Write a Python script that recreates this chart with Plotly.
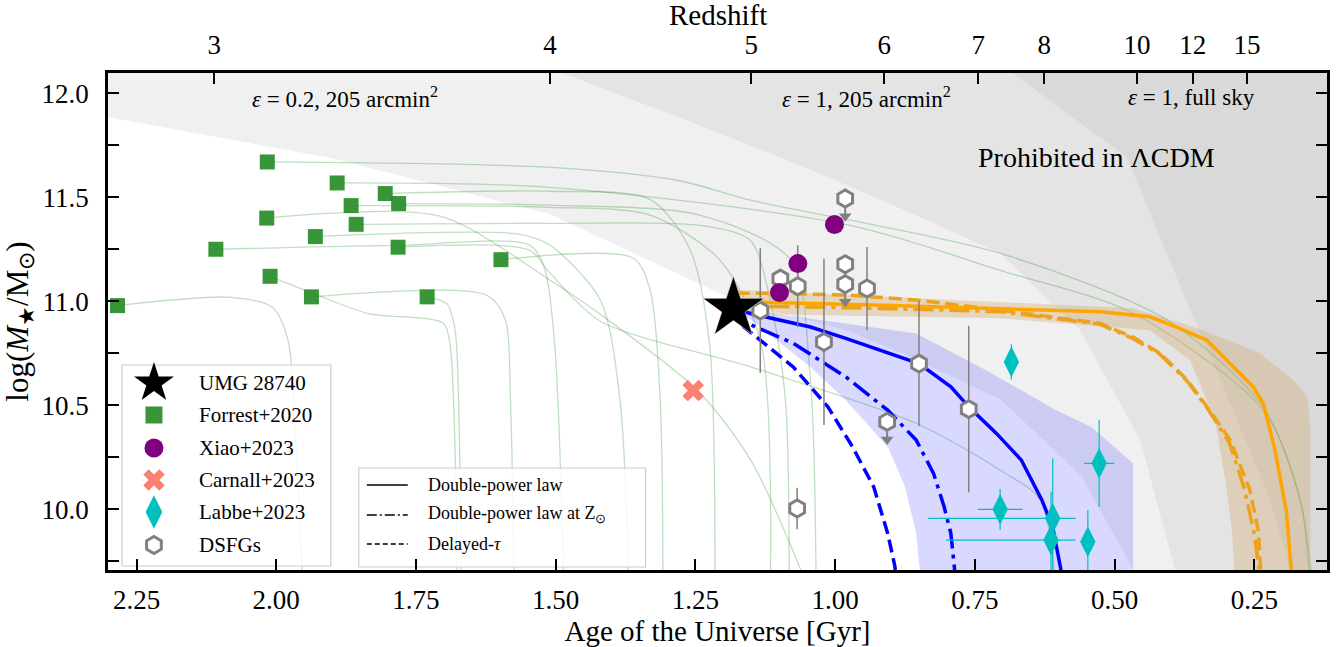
import plotly.graph_objects as go

FONT = "Liberation Serif"

# ---------------- axes / ticks ----------------
AGE_RANGE = [2.301, 0.120]
MASS_RANGE = [9.707, 12.098]
age_ticks = [2.25, 2.00, 1.75, 1.50, 1.25, 1.00, 0.75, 0.50, 0.25]
age_tick_labels = ["2.25", "2.00", "1.75", "1.50", "1.25", "1.00", "0.75", "0.50", "0.25"]
mass_ticks = [10.0, 10.5, 11.0, 11.5, 12.0]
mass_tick_labels = ["10.0", "10.5", "11.0", "11.5", "12.0"]
mass_minor_ticks = [9.75, 10.25, 10.75, 11.25, 11.75]
redshift_labels = ["3", "4", "5", "6", "7", "8", "10", "12", "15"]
redshift_ages = [2.111, 1.510, 1.150, 0.912, 0.744, 0.626, 0.460, 0.360, 0.263]

# ---------------- prohibited-region boundaries ----------------
eps02_age = [2.40, 2.30, 1.90, 1.51, 1.18, 0.98, 0.88, 0.705, 0.56, 0.45, 0.43]
eps02_mass = [11.93, 11.885, 11.688, 11.418, 11.005, 10.86, 10.75, 10.53, 10.16, 9.63, 9.50]
eps1_age = [1.52, 1.4865, 1.2415, 1.0626, 0.8836, 0.7048, 0.5617, 0.4544, 0.3918, 0.37]
eps1_mass = [12.20, 12.096, 11.846, 11.654, 11.447, 11.231, 10.861, 10.332, 9.707, 9.50]
sky_age = [0.70, 0.6815, 0.4776, 0.3774, 0.2880, 0.2218, 0.1860, 0.17]
sky_mass = [12.20, 12.096, 11.692, 11.038, 10.476, 10.044, 9.707, 9.50]

# ---------------- galaxies ----------------
umg_age = [1.182]
umg_mass = [10.966]

forrest_age = [2.016, 1.891, 1.805, 1.781, 1.866, 2.017, 1.857, 1.930, 2.108, 1.782,
               1.598, 2.011, 1.937, 1.730, 2.284]
forrest_mass = [11.670, 11.569, 11.518, 11.470, 11.460, 11.400, 11.370, 11.311, 11.250, 11.260,
                11.200, 11.120, 11.021, 11.021, 10.979]

track_ages = [
    [2.016, 1.510, 1.283, 1.152, 0.973, 0.705, 0.406, 0.234, 0.168, 0.145],
    [1.891, 1.510, 0.973, 0.705, 0.467, 0.234, 0.168, 0.150],
    [1.805, 1.510, 1.331, 1.260, 1.225, 1.215],
    [1.781, 1.510, 1.242, 1.080, 1.045, 1.034],
    [1.866, 1.510, 1.331, 1.206, 1.134, 1.116],
    [2.017, 1.707, 1.510, 1.420, 1.245, 1.150, 1.045],
    [1.857, 1.510, 1.242, 1.152, 1.116, 1.089, 1.082],
    [1.930, 1.564, 1.510, 1.420, 1.385, 1.369],
    [2.108, 1.784, 1.546, 1.519, 1.501, 1.485],
    [1.782, 1.546, 1.510, 1.420, 1.150, 0.855, 0.705, 0.633, 0.605],
    [1.598, 1.361, 1.331, 1.313, 1.308],
    [2.011, 1.934, 1.837, 1.701, 1.689, 1.680, 1.676],
    [1.937, 1.623, 1.590, 1.581, 1.574],
    [1.730, 1.694, 1.680, 1.673, 1.669],
    [2.284, 2.082, 2.007, 1.979, 1.964, 1.952],
]
track_mass = [
    [11.670, 11.644, 11.582, 11.486, 11.390, 11.231, 10.909, 10.490, 10.044, 9.60],
    [11.569, 11.548, 11.365, 11.149, 10.942, 10.476, 10.044, 9.60],
    [11.518, 11.529, 11.490, 11.250, 10.800, 9.60],
    [11.470, 11.462, 11.414, 11.200, 10.650, 9.60],
    [11.460, 11.452, 11.414, 11.197, 10.813, 9.60],
    [11.400, 11.409, 11.101, 10.937, 10.567, 10.231, 9.60],
    [11.370, 11.375, 11.365, 11.293, 11.005, 10.524, 9.60],
    [11.311, 11.322, 11.269, 11.005, 10.524, 9.60],
    [11.250, 11.269, 11.269, 11.149, 10.764, 9.60],
    [11.260, 11.245, 11.135, 10.904, 10.683, 10.413, 10.188, 10.044, 9.60],
    [11.200, 11.207, 11.053, 10.524, 9.60],
    [11.120, 11.038, 10.942, 10.894, 10.789, 10.284, 9.60],
    [11.021, 11.029, 10.909, 10.524, 9.60],
    [11.021, 10.986, 10.861, 10.428, 9.60],
    [10.979, 11.019, 10.971, 10.813, 10.284, 9.60],
]

xiao_age = [1.0996, 1.0667, 1.0012]
xiao_mass = [11.042, 11.181, 11.369]

carnall_age = [1.254]
carnall_mass = [10.57]

labbe_age = [0.6847, 0.5277, 0.7048, 0.6107, 0.6138, 0.5479]
labbe_mass = [10.708, 10.220, 9.999, 9.955, 9.851, 9.843]
labbe_mass_err_up = [0.085, 0.21, 0.098, 0.29, 0.232, 0.152]
labbe_mass_err_down = [0.085, 0.21, 0.098, 0.29, 0.30, 0.20]
labbe_age_err_older = [0.0, 0.027, 0.04, 0.223, 0.188, 0.0]
labbe_age_err_younger = [0.0, 0.027, 0.04, 0.041, 0.044, 0.0]

dsfg_age = [0.982, 1.098, 1.134, 1.067, 0.982, 0.982, 0.943, 1.020, 0.850, 0.761, 0.907, 1.068]
dsfg_mass = [11.494, 11.109, 10.955, 11.072, 11.178, 11.082, 11.061, 10.804, 10.700, 10.481, 10.420, 10.003]
dsfg_err = [0.0, 0.0, 0.30, 0.197, 0.0, 0.0, 0.20, 0.40, 0.30, 0.40, 0.0, 0.10]
dsfg_upper_limit = [True, False, False, False, True, True, False, False, False, False, True, False]

# ---------------- model tracks for UMG 28740 ----------------
blue_dpl_age = [1.182, 1.150, 1.044, 0.981, 0.850, 0.793, 0.761, 0.711, 0.667, 0.630, 0.611, 0.598, 0.594]
blue_dpl_mass = [10.966, 10.940, 10.876, 10.821, 10.700, 10.588, 10.492, 10.363, 10.236, 10.043, 9.915, 9.723, 9.68]
blue_dplz_age = [1.182, 1.170, 1.075, 0.981, 0.906, 0.855, 0.824, 0.805, 0.793, 0.786, 0.784]
blue_dplz_mass = [10.966, 10.909, 10.798, 10.636, 10.476, 10.332, 10.172, 10.011, 9.883, 9.723, 9.65]
blue_tau_age = [1.182, 1.163, 1.075, 1.013, 0.969, 0.931, 0.906, 0.893, 0.891]
blue_tau_mass = [10.966, 10.876, 10.684, 10.492, 10.300, 10.107, 9.883, 9.723, 9.65]
blue_band_upper_age = [1.182, 1.150, 0.855, 0.730, 0.605, 0.542, 0.467, 0.467]
blue_band_upper_mass = [10.966, 10.957, 10.845, 10.668, 10.476, 10.396, 10.220, 9.60]
blue_band_lower_age = [1.150, 1.044, 0.981, 0.906, 0.875, 0.855, 0.849, 0.845]
blue_band_lower_mass = [10.909, 10.684, 10.524, 10.300, 10.107, 9.883, 9.723, 9.60]

orange_dpl_age = [1.182, 1.150, 0.914, 0.705, 0.526, 0.437, 0.389, 0.335, 0.287, 0.252, 0.234, 0.213, 0.193, 0.183]
orange_dpl_mass = [10.990, 10.997, 10.981, 10.965, 10.949, 10.925, 10.876, 10.812, 10.684, 10.588, 10.508, 10.284, 9.995, 9.68]
orange_dplz_age = [1.182, 1.100, 0.914, 0.705, 0.527, 0.467, 0.419, 0.370, 0.334, 0.295, 0.268, 0.250, 0.240]
orange_dplz_mass = [10.975, 10.975, 10.965, 10.950, 10.890, 10.820, 10.745, 10.615, 10.485, 10.320, 10.100, 9.880, 9.68]
orange_tau_age = [1.176, 1.094, 0.973, 0.853, 0.705, 0.527, 0.467, 0.419, 0.370, 0.334, 0.293, 0.258, 0.243, 0.238]
orange_tau_mass = [11.038, 11.038, 11.029, 11.005, 10.957, 10.894, 10.827, 10.750, 10.620, 10.490, 10.332, 10.091, 9.899, 9.68]
orange_band_upper_age = [1.176, 0.900, 0.705, 0.467, 0.357, 0.240, 0.180, 0.155, 0.150, 0.150]
orange_band_upper_mass = [11.055, 11.020, 10.995, 10.966, 10.875, 10.750, 10.620, 10.538, 10.40, 9.60]
orange_band_lower_age = [1.176, 0.705, 0.437, 0.365, 0.320, 0.302, 0.290, 0.284]
orange_band_lower_mass = [10.940, 10.918, 10.861, 10.716, 10.428, 10.140, 9.90, 9.60]

# ---------------- legend content ----------------
marker_legend_labels = ["UMG 28740", "Forrest+2020", "Xiao+2023", "Carnall+2023", "Labbe+2023", "DSFGs"]
line_legend_labels = ["Double-power law", "Double-power law at Z<sub>⊙</sub>", "Delayed-<i>τ</i>"]

# ---------------- styles ----------------
GRAY_A = "#f0f0f0"
GRAY_B = "#e4e4e4"
GRAY_C = "#d9d9d9"
GREEN = "rgba(34,139,34,0.9)"
TRACK = "rgba(34,139,34,0.28)"
PURPLE = "#800080"
SALMON = "#fa8072"
CYAN = "#00bfbf"
DSFG_GRAY = "#808080"
BLUE = "#0000ff"
ORANGE = "#ffa500"
ORANGE_D = "#eda21c"
DASH = "13px,6px"
DASHDOT = "20px,6px,4px,6px"
ARROW_LEN = 0.085

fig = go.Figure()


def region(ages, masses, color):
    xs = list(ages) + [-0.3, -0.3, ages[0]]
    ys = list(masses) + [9.0, 13.0, 13.0]
    fig.add_trace(go.Scatter(x=xs, y=ys, mode="lines", fill="toself", fillcolor=color,
                             line=dict(width=0), hoverinfo="skip", showlegend=False))


region(eps02_age, eps02_mass, GRAY_A)
region(eps1_age, eps1_mass, GRAY_B)
region(sky_age, sky_mass, GRAY_C)

# Forrest star formation histories
for ta, tm in zip(track_ages, track_mass):
    fig.add_trace(go.Scatter(x=ta, y=tm, mode="lines", line=dict(color=TRACK, width=1.3, shape="spline", smoothing=0.8),
                             hoverinfo="skip", showlegend=False))

# uncertainty bands
fig.add_trace(go.Scatter(x=blue_band_upper_age + blue_band_lower_age[::-1],
                         y=blue_band_upper_mass + blue_band_lower_mass[::-1],
                         mode="lines", fill="toself", fillcolor="rgba(0,0,255,0.15)", line=dict(width=0),
                         hoverinfo="skip", showlegend=False))
fig.add_trace(go.Scatter(x=orange_band_upper_age + orange_band_lower_age[::-1],
                         y=orange_band_upper_mass + orange_band_lower_mass[::-1],
                         mode="lines", fill="toself", fillcolor="rgba(210,175,120,0.40)", line=dict(width=0),
                         hoverinfo="skip", showlegend=False))

# model lines
for xa, ya, col, dsh in [
    (blue_tau_age, blue_tau_mass, BLUE, DASH),
    (blue_dplz_age, blue_dplz_mass, BLUE, DASHDOT),
    (blue_dpl_age, blue_dpl_mass, BLUE, "solid"),
    (orange_tau_age, orange_tau_mass, ORANGE_D, DASH),
    (orange_dplz_age, orange_dplz_mass, ORANGE_D, DASHDOT),
    (orange_dpl_age, orange_dpl_mass, ORANGE, "solid"),
]:
    fig.add_trace(go.Scatter(x=xa, y=ya, mode="lines", line=dict(color=col, width=3.5, dash=dsh),
                             hoverinfo="skip", showlegend=False))

# data points
fig.add_trace(go.Scatter(x=forrest_age, y=forrest_mass, mode="markers",
                         marker=dict(symbol="square", size=15, color=GREEN, line=dict(width=0)), showlegend=False))
fig.add_trace(go.Scatter(x=carnall_age, y=carnall_mass, mode="markers",
                         marker=dict(symbol="x", size=19, color=SALMON, line=dict(width=0)), showlegend=False))
fig.add_trace(go.Scatter(x=labbe_age, y=labbe_mass, mode="markers",
                         error_y=dict(type="data", array=labbe_mass_err_up, arrayminus=labbe_mass_err_down,
                                      color=CYAN, thickness=1.2, width=0),
                         error_x=dict(type="data", array=labbe_age_err_older, arrayminus=labbe_age_err_younger,
                                      color=CYAN, thickness=1.2, width=0),
                         marker=dict(symbol="diamond-tall", size=22, color=CYAN, line=dict(width=0)),
                         showlegend=False))

# DSFGs: error bars, upper-limit arrows, hexagons
ul_age = [a for a, u in zip(dsfg_age, dsfg_upper_limit) if u]
ul_mass = [m for m, u in zip(dsfg_mass, dsfg_upper_limit) if u]
for a, m in zip(ul_age, ul_mass):
    fig.add_trace(go.Scatter(x=[a, a], y=[m, m - ARROW_LEN], mode="lines",
                             line=dict(color=DSFG_GRAY, width=2), hoverinfo="skip", showlegend=False))
fig.add_trace(go.Scatter(x=ul_age, y=[m - ARROW_LEN for m in ul_mass], mode="markers",
                         marker=dict(symbol="triangle-down", size=11, color=DSFG_GRAY), showlegend=False))
fig.add_trace(go.Scatter(x=dsfg_age, y=dsfg_mass, mode="markers",
                         error_y=dict(type="data", array=dsfg_err, color=DSFG_GRAY, thickness=1.5, width=0),
                         marker=dict(symbol="hexagon", size=17, color="white", line=dict(color=DSFG_GRAY, width=3)),
                         showlegend=False))
fig.add_trace(go.Scatter(x=xiao_age, y=xiao_mass, mode="markers",
                         marker=dict(symbol="circle", size=19, color=PURPLE, line=dict(width=0)), showlegend=False))
fig.add_trace(go.Scatter(x=umg_age, y=umg_mass, mode="markers",
                         marker=dict(symbol="star", size=46, color="black", line=dict(color="white", width=0.5)),
                         showlegend=False))

# dummy trace to activate the top redshift axis
fig.add_trace(go.Scatter(x=redshift_ages, y=[MASS_RANGE[0]] * len(redshift_ages), xaxis="x2", yaxis="y",
                         mode="markers", marker=dict(opacity=0), hoverinfo="skip", showlegend=False))

# ---------------- manual legends (helper axes in plot-fraction units) ----------------
L = dict(xaxis="x3", yaxis="y3", hoverinfo="skip", showlegend=False)
box1 = ([0.0115, 0.1828, 0.1828, 0.0115, 0.0115], [0.008, 0.008, 0.4125, 0.4125, 0.008])
box2 = ([0.2057, 0.4410, 0.4410, 0.2057, 0.2057], [0.006, 0.006, 0.2052, 0.2052, 0.006])
for bx, by in (box1, box2):
    fig.add_trace(go.Scatter(x=bx, y=by, mode="lines", fill="toself", fillcolor="rgba(255,255,255,0.85)",
                             line=dict(color="#cccccc", width=1.2), **L))
rows1 = [0.3763, 0.3119, 0.2455, 0.1811, 0.1167, 0.0503]
mx = 0.0377
leg_markers = [
    dict(symbol="star", size=30, color="black"),
    dict(symbol="square", size=17, color=GREEN),
    dict(symbol="circle", size=19, color=PURPLE),
    dict(symbol="x", size=19, color=SALMON),
    dict(symbol="diamond-tall", size=24, color=CYAN),
    dict(symbol="hexagon", size=17, color="white", line=dict(color=DSFG_GRAY, width=3)),
]
for r, mk in zip(rows1, leg_markers):
    fig.add_trace(go.Scatter(x=[mx], y=[r], mode="markers", marker=mk, **L))
rows2 = [0.171, 0.1107, 0.0523]
for r, dsh in zip(rows2, ["solid", "10px,3px,2px,3px", "5px,3px"]):
    fig.add_trace(go.Scatter(x=[0.2123, 0.2459], y=[r, r], mode="lines", line=dict(color="black", width=1.6, dash=dsh), **L))

annotations = []
for r, t in zip(rows1, marker_legend_labels):
    annotations.append(dict(x=0.073, y=r, xref="x3", yref="y3", text=t, showarrow=False,
                            xanchor="left", yanchor="middle", font=dict(family=FONT, size=21, color="black")))
for r, t in zip(rows2, line_legend_labels):
    annotations.append(dict(x=0.2607, y=r, xref="x3", yref="y3", text=t, showarrow=False,
                            xanchor="left", yanchor="middle", font=dict(family=FONT, size=18, color="black")))

# region labels
annotations += [
    dict(x=1.8765, y=11.981, xref="x", yref="y", text="<i>ε</i> = 0.2, 205 arcmin<sup>2</sup>", showarrow=False,
         font=dict(family=FONT, size=23, color="black")),
    dict(x=0.9445, y=11.981, xref="x", yref="y", text="<i>ε</i> = 1, 205 arcmin<sup>2</sup>", showarrow=False,
         font=dict(family=FONT, size=23, color="black")),
    dict(x=0.3631, y=11.981, xref="x", yref="y", text="<i>ε</i> = 1, full sky", showarrow=False,
         font=dict(family=FONT, size=23, color="black")),
    dict(x=0.5328, y=11.692, xref="x", yref="y", text="Prohibited in ΛCDM", showarrow=False,
         font=dict(family=FONT, size=28, color="black")),
    # top-axis title
    dict(x=0.5, y=1.1167, xref="paper", yref="paper", text="Redshift", showarrow=False,
         xanchor="center", yanchor="middle", font=dict(family=FONT, size=29, color="black")),
]

axis_common = dict(ticks="inside", ticklen=11, tickwidth=1.5, tickcolor="black", automargin=False,
                   tickfont=dict(family=FONT, size=27, color="black"), showgrid=False, zeroline=False)

fig.update_layout(
    width=1338, height=647,
    margin=dict(l=108, r=11, t=73, b=77),
    paper_bgcolor="white", plot_bgcolor="white",
    font=dict(family=FONT, color="black"),
    xaxis=dict(range=AGE_RANGE, tickvals=age_ticks, ticktext=age_tick_labels,
               showline=True, linewidth=2.5, linecolor="black", mirror=True, ticklabelstandoff=4,
               title=dict(text="Age of the Universe [Gyr]", font=dict(family=FONT, size=29), standoff=2),
               **axis_common),
    yaxis=dict(range=MASS_RANGE, tickvals=mass_ticks, ticktext=mass_tick_labels,
               minor=dict(tickvals=mass_minor_ticks, ticks="inside", ticklen=11, tickwidth=1.5, tickcolor="black"),
               showline=True, linewidth=2.5, linecolor="black", mirror="ticks", ticklabelstandoff=11,
               title=dict(text="log(<i>M</i><sub>★</sub>/M<sub>⊙</sub>)", font=dict(family=FONT, size=31), standoff=6),
               **axis_common),
    xaxis2=dict(overlaying="x", side="top", anchor="y", range=AGE_RANGE, tickvals=redshift_ages,
                ticktext=redshift_labels, showline=False, ticklabelstandoff=13,
                **axis_common),
    xaxis3=dict(overlaying="x", anchor="y3", range=[0, 1], visible=False),
    yaxis3=dict(overlaying="y", anchor="x3", range=[0, 1], visible=False),
    annotations=annotations,
    showlegend=False,
)

fig.write_html("out.html", config={"displayModeBar": False},
               post_script="document.body.style.margin='0px';document.body.style.overflow='hidden';")
